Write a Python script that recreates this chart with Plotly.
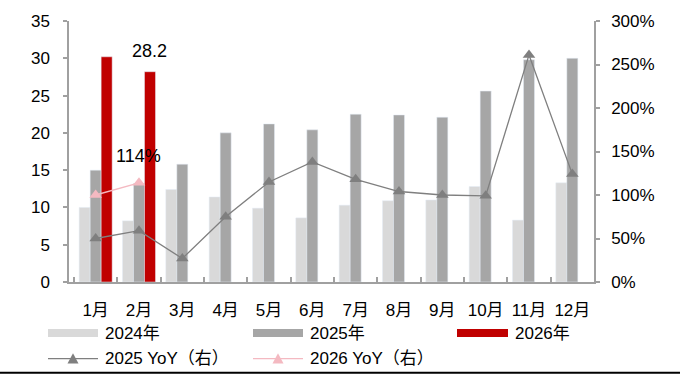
import plotly.graph_objects as go

# ---- data ----
months = ["1月", "2月", "3月", "4月", "5月", "6月", "7月", "8月", "9月", "10月", "11月", "12月"]
sales_2024 = [10.0, 8.2, 12.4, 11.4, 9.9, 8.6, 10.3, 10.9, 11.0, 12.8, 8.3, 13.3]
sales_2025 = [15.0, 13.2, 15.8, 20.0, 21.2, 20.4, 22.5, 22.4, 22.1, 25.6, 29.8, 30.0]
sales_2026 = [30.2, 28.2]
yoy_2025 = [0.50, 0.59, 0.27, 0.75, 1.15, 1.38, 1.18, 1.04, 1.00, 0.99, 2.61, 1.24]
yoy_2026 = [1.00, 1.14]

left_ticks = [0, 5, 10, 15, 20, 25, 30, 35]
right_ticks = [0, 0.5, 1.0, 1.5, 2.0, 2.5, 3.0]

C2024 = "#d9d9d9"
C2025 = "#a6a6a6"
C2026 = "#c00000"
CLINE = "#7f7f7f"
CPINK = "#f4b9c1"
AXIS = "#a0a0a0"
FONT = "Liberation Sans, Arial, Noto Sans CJK SC, sans-serif"

W, H = 680, 376
L, R, T, B = 69, 594, 16, 282   # plot area in pixels


def px(x):
    return (x - L) / (R - L)


def py(y):
    return (B - y) / (B - T)


fig = go.Figure()
fig.add_bar(x=months, y=sales_2024, name="2024年", marker_color=C2024, showlegend=False)
fig.add_bar(x=months, y=sales_2025, name="2025年", marker_color=C2025, showlegend=False)
fig.add_bar(x=months[:len(sales_2026)], y=sales_2026, name="2026年", marker_color=C2026, showlegend=False)
fig.add_scatter(x=months, y=yoy_2025, yaxis="y2", mode="lines+markers", name="2025 YoY（右）",
                line=dict(color=CLINE, width=1.3),
                marker=dict(symbol="triangle-up", size=11, color=CLINE), showlegend=False)
fig.add_scatter(x=months[:len(yoy_2026)], y=yoy_2026, yaxis="y2", mode="lines+markers", name="2026 YoY（右）",
                line=dict(color=CPINK, width=1.3),
                marker=dict(symbol="triangle-up", size=11, color=CPINK), showlegend=False)

# value labels
fig.add_annotation(x=months[1], y=sales_2026[1], text=f"{sales_2026[1]:.1f}", showarrow=False,
                   xshift=11, yshift=21, font=dict(size=18, color="#000"))
fig.add_annotation(x=months[1], y=yoy_2026[1], yref="y2", text=f"{yoy_2026[1]*100:.0f}%", showarrow=False,
                   yshift=27, font=dict(size=18, color="#000"))

# legend drawn by hand: wide swatches in two rows
shapes = []
annos = []
row1, row2 = 334, 360
cols = [(48, 98), (253, 303), (457, 508)]
for (x0, x1), name, col in zip(cols, ["2024年", "2025年", "2026年"], [C2024, C2025, C2026]):
    shapes.append(dict(type="rect", xref="paper", yref="paper", x0=px(x0), x1=px(x1),
                       y0=py(row1 + 4), y1=py(row1 - 4), fillcolor=col, line=dict(width=0)))
    annos.append(dict(xref="paper", yref="paper", x=px(x1 + 5), y=py(row1), text=name,
                      xanchor="left", yanchor="middle", showarrow=False, font=dict(size=17, color="#000")))
for (x0, x1), name, col in zip(cols[:2], ["2025 YoY（右）", "2026 YoY（右）"], [CLINE, CPINK]):
    shapes.append(dict(type="line", xref="paper", yref="paper", x0=px(x0), x1=px(x1),
                       y0=py(row2), y1=py(row2), line=dict(color=col, width=1.3)))
    cx = (x0 + x1) / 2
    shapes.append(dict(type="path", xref="paper", yref="paper",
                       path=f"M{px(cx-5.5)},{py(row2+5)} L{px(cx+5.5)},{py(row2+5)} L{px(cx)},{py(row2-5.5)} Z",
                       fillcolor=col, line=dict(width=0)))
    annos.append(dict(xref="paper", yref="paper", x=px(x1 + 5), y=py(row2), text=name,
                      xanchor="left", yanchor="middle", showarrow=False, font=dict(size=17, color="#000")))

# rule along the bottom edge
shapes.append(dict(type="line", xref="paper", yref="paper", x0=px(0), x1=px(W),
                   y0=py(374.5), y1=py(374.5), line=dict(color="#000", width=2)))

for a in annos:
    fig.add_annotation(**a)

fig.update_layout(
    width=W, height=H,
    margin=dict(l=L, r=W - R, t=T, b=H - B),
    paper_bgcolor="white", plot_bgcolor="white",
    barmode="group", bargap=0.238, bargroupgap=0,
    font=dict(family=FONT, size=17, color="#000"),
    shapes=shapes,
    xaxis=dict(type="category", range=[-0.615, 11.5], showline=True, linecolor=AXIS, linewidth=1.5,
               ticks="inside", tickson="boundaries", ticklen=5, tickcolor=AXIS, tickwidth=1.5,
               ticklabelstandoff=12, tickangle=0, showgrid=False, tickfont=dict(size=17)),
    yaxis=dict(range=[0, 35], tickvals=left_ticks, showline=True, linecolor=AXIS, linewidth=1.5,
               ticks="outside", ticklen=4, tickcolor=AXIS, tickwidth=1.5, ticklabelstandoff=10,
               showgrid=False, zeroline=False, tickfont=dict(size=17)),
    yaxis2=dict(range=[0, 3], tickvals=right_ticks, tickformat=".0%", overlaying="y", side="right",
                showline=True, linecolor=AXIS, linewidth=1.5, ticks="outside", ticklen=4,
                tickcolor=AXIS, tickwidth=1.5, ticklabelstandoff=8, showgrid=False, zeroline=False,
                tickfont=dict(size=17)),
)

fig.write_html("out.html")
